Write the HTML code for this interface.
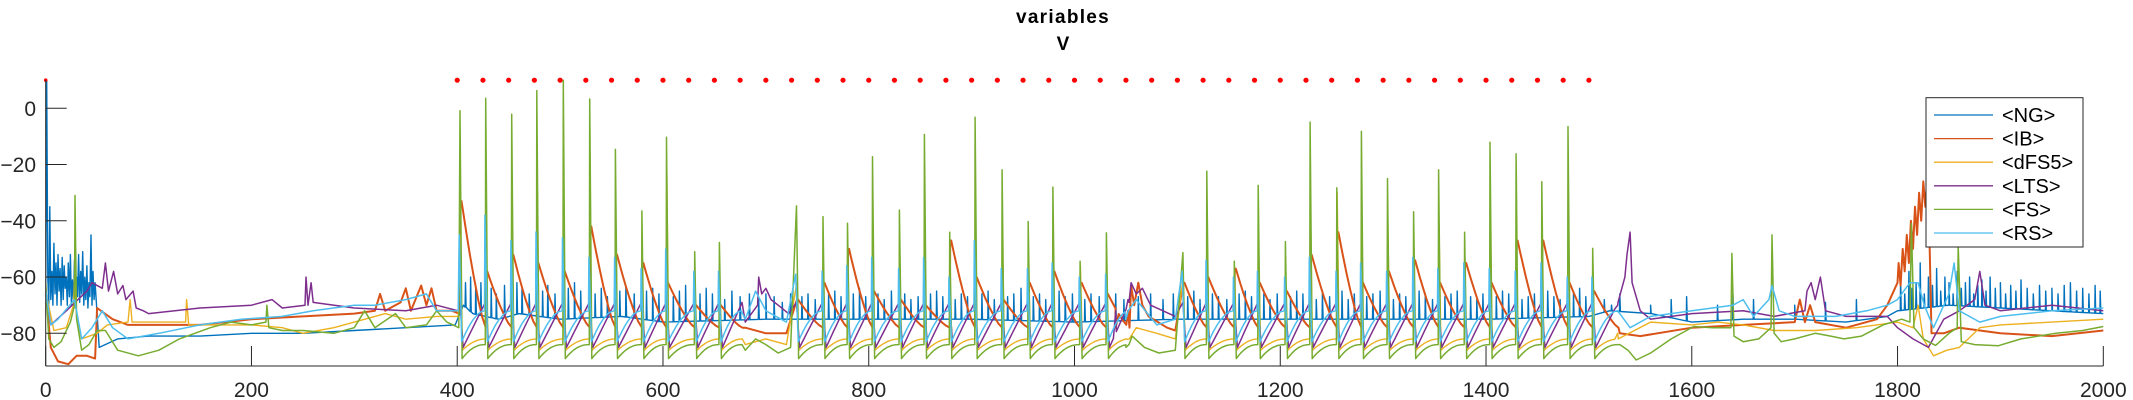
<!DOCTYPE html>
<html><head><meta charset="utf-8"><style>
html,body{margin:0;padding:0;background:#fff;}
svg{display:block;font-family:"Liberation Sans",sans-serif;}
</style></head><body>
<svg id="chart" width="2133" height="400" viewBox="0 0 2133 400" xmlns="http://www.w3.org/2000/svg">
<defs><clipPath id="pc"><rect x="45.7" y="60" width="2058" height="306"/></clipPath></defs>
<text x="1063" y="23" text-anchor="middle" font-weight="bold" font-size="19" letter-spacing="1.3">variables</text>
<text x="1063" y="50" text-anchor="middle" font-weight="bold" font-size="19">V</text>
<g id="traces" clip-path="url(#pc)"></g>
<g id="dots"></g>
<g id="axes"></g>
<g id="legend"></g>
</svg>
<script>
const xTicks=[0,200,400,600,800,1000,1200,1400,1600,1800,2000];
const yTicks=[0,-20,-40,-60,-80];
const dotT=[0,400,425,450,475,500,525,550,575,600,625,650,675,700,725,750,775,800,825,850,875,900,925,950,975,1000,1025,1050,1075,1100,1125,1150,1175,1200,1225,1250,1275,1300,1325,1350,1375,1400,1425,1450,1475,1500];
const dotV=10;
const names=["<NG>","<IB>","<dFS5>","<LTS>","<FS>","<RS>"];
const fsT=[402.7,427.7,453,477.4,503.1,528.8,553.8,579.5,603.4,630.8,654.8,729.8,755.5,779.4,803.7,829.8,854.1,878.7,903.4,929.6,955,979,1005.4,1031,1105.4,1128.6,1155.3,1178.6,1205,1229,1255,1278.9,1304.2,1329.6,1353.9,1379.2,1403.9,1429.2,1454.2,1479.7,1503.7];
const fsP=[-0.9,3.6,-2.1,6.3,10,3.3,-14.6,-36.5,-10.3,-51,-47.7,-34.7,-38.5,-40.9,-17.2,-36.2,-9.3,-44.1,-3.2,-21.9,-40.3,-28,-54.4,-44.3,-51.3,-22.4,-54.4,-27.4,-47.4,-4.9,-28.3,-8.2,-25,-36.8,-21.9,-44.1,-12.1,-16.2,-26.1,-6.5,-49.8];
const fsPre=[[0,-62],[3,-82],[8,-85],[15,-83],[24,-76],[28,-70],[28.5,-31],[30,-75],[35,-86],[42,-84],[50,-79],[58,-79],[70,-86],[90,-88],[110,-86],[130,-82],[160,-78],[180,-76],[200,-77],[214,-76],[215,-70],[217,-78],[230,-79],[250,-79],[280,-80],[300,-78],[310,-72],[320,-78],[340,-73],[350,-78],[370,-77],[380,-72],[390,-76],[401.5,-78]];
const fsGap=[[680,-86],[690,-82],[700,-84],[712,-87],[724,-85],[1050,-85],[1056,-81],[1068,-85],[1082,-87],[1098,-86]];
const fsPost=[[1530,-84],[1538,-86],[1546,-89.5],[1560,-87],[1580,-82],[1602,-77.6],[1620,-78],[1638,-78],[1639,-51.6],[1641,-81],[1650,-83],[1665,-82],[1677,-78],[1678,-45],[1680,-80],[1687,-83],[1700,-82],[1720,-80],[1735,-81],[1748,-82],[1765,-81],[1786,-77],[1804,-75],[1812,-76],[1813.5,-41],[1816,-78],[1825,-82],[1837,-84.3],[1850,-80],[1858,-78],[1859,-49],[1862,-83],[1875,-84],[1898,-84.4],[1920,-82],[1954,-80],[1980,-79],[2000,-77.6]];
const rsP=[-45,-38,-47,-44,-46,-53,-53,-57,-50,-58,-58,-59,-58,-56,-53,-57,-53,-60,-47,-57,-57,-55,-60,-59,-58,-54,-60,-58,-60,-53,-58,-55,-58,-53,-57,-55,-57,-58,-55,-60,-60];
const rsPre=[[0,-65],[5,-77],[12,-75],[28,-68],[35,-82],[45,-78],[55,-72],[65,-78],[80,-82],[110,-80],[150,-77],[190,-75],[230,-74],[260,-72],[300,-70],[320,-70],[350,-68],[370,-66],[380,-72],[401,-72]];
const rsGap=[[680,-75],[690,-65],[700,-72],[720,-76],[1050,-75],[1060,-68],[1080,-77],[1098,-75]];
const rsPost=[[1528,-72],[1540,-78],[1560,-74],[1600,-72],[1640,-70],[1650,-68],[1660,-74],[1675,-68],[1678,-63],[1685,-72],[1700,-74],[1740,-74],[1770,-72],[1790,-70],[1800,-68],[1812,-62],[1820,-62],[1826,-70],[1835,-78],[1850,-66],[1855,-55],[1860,-72],[1880,-76],[1900,-74],[1950,-72],[2000,-71]];
const yP=[-45,-58,-55,-25,-40,-60,-58,-55,-22,-62,-65,-62,-60,-58,-55,-60,-58,-62,-55,-45,-55,-60,-56,-60,-60,-44,-58,-50,-60,-33,-30,-60,-40,-58,-40,-60,-38,-58,-55,-52,-60];
const yPre=[[0,-65],[8,-79],[20,-78],[27,-70],[28,-60],[30,-75],[35,-82],[50,-80],[60,-77],[80,-76],[82,-68],[84,-76],[136,-76],[137,-68],[139,-77],[200,-77],[230,-78],[250,-80],[280,-78],[300,-76],[330,-73],[350,-75],[380,-74],[401,-74]];
const yGap=[[680,-84],[700,-82],[720,-84],[1050,-82],[1060,-78],[1080,-80],[1098,-82]];
const yPost=[[1528,-80],[1560,-76],[1600,-77],[1625,-76],[1650,-77],[1680,-79],[1720,-79],[1760,-78],[1800,-76],[1815,-78],[1820,-70],[1825,-82],[1835,-88],[1848,-86],[1860,-85],[1880,-78],[1900,-77],[1950,-76],[2000,-75]];
const ibP=[-33,-58,-52,-55,-58,-42,-52,-55,-62,-70,-70,-68,-62,-50,-65,-68,-70,-47,-60,-68,-62,-58,-62,-66,-62,-60,-57,-62,-65,-52,-44,-62,-58,-54,-62,-55,-62,-47,-47,-62,-65];
const ibPre=[[0,-65],[5,-85],[12,-90],[22,-91],[30,-88],[40,-88],[48,-89],[50,-71],[65,-75],[80,-77],[150,-77],[200,-75],[250,-74],[300,-73],[320,-72],[325,-66],[330,-72],[345,-69],[350,-64],[355,-72],[365,-63],[370,-70],[375,-64],[380,-72],[395,-72],[401.5,-73]];
const ibGap=[[680,-78],[700,-80],[720,-80],[1040,-78],[1052,-72],[1055,-63],[1058,-70],[1062,-62],[1066,-70],[1072,-74],[1090,-78],[1098,-79]];
const ibPost=[[1530,-80],[1550,-81],[1600,-78],[1650,-77],[1700,-76],[1705,-68],[1710,-76],[1715,-70],[1720,-76],[1750,-78],[1780,-75],[1790,-70],[1800,-62],[1801,-55],[1803,-63],[1805,-50],[1807,-58],[1809,-45],[1811,-55],[1813,-40],[1815,-50],[1817,-35],[1819,-45],[1821,-30],[1823,-40],[1825,-26],[1827,-35],[1829,-24],[1831,-45],[1833,-80],[1845,-80],[1860,-78],[1900,-80],[1950,-81],[2000,-79]];
const ltsPre=[[0,-65],[5,-77],[20,-72],[40,-65],[45,-62],[55,-64],[58,-55],[61,-65],[66,-58],[70,-66],[75,-63],[78,-68],[85,-65],[88,-71],[95,-72],[100,-73],[150,-71],[200,-70],[220,-68],[230,-71],[252,-70],[253,-60],[255,-70],[258,-62],[260,-69],[300,-71],[350,-72],[380,-70],[401,-72]];
const ltsGap=[[680,-76],[692,-70],[693,-60],[696,-66],[700,-64],[705,-68],[712,-70],[722,-73],[1040,-72],[1052,-68],[1055,-62],[1060,-66],[1066,-64],[1074,-70],[1086,-72],[1098,-74]];
const ltsPost=[[1528,-70],[1535,-60],[1537,-52],[1540,-44],[1542,-62],[1550,-72],[1560,-75],[1600,-73],[1650,-72],[1680,-74],[1710,-72],[1712,-65],[1716,-62],[1720,-68],[1725,-60],[1730,-72],[1750,-74],[1790,-74],[1800,-78],[1815,-82],[1830,-85],[1845,-75],[1860,-72],[1875,-68],[1880,-58],[1885,-70],[1900,-72],[1950,-70],[2000,-72]];
const ngEarly=[[0,-65],[1,10],[2,-60],[3,-70],[4,-35],[5,-68],[6,-58],[7,-70],[8,-48],[9,-66],[10,-55],[11,-70],[12,-52],[13,-65],[14,-57],[15,-70],[16,-53],[17,-68],[18,-56],[19,-64],[20,-60],[21,-70],[22,-55],[23,-67],[24,-52],[25,-70],[26,-61],[27,-68],[28,-54],[29,-71],[30,-60],[31,-67],[32,-52],[33,-69],[34,-58],[35,-66],[36,-51],[37,-70],[38,-60],[39,-68],[40,-56],[41,-71],[42,-62],[43,-67],[44,-45],[45,-70],[46,-58],[47,-68]];
const ngBase=[[48,-62],[52,-85],[70,-82],[100,-81],[150,-81],[200,-80],[250,-80],[300,-79],[350,-78],[398,-77],[406,-70],[415,-73],[440,-75],[460,-73],[500,-75],[560,-74],[600,-76],[700,-75],[800,-75],[900,-75],[1000,-76],[1100,-75],[1200,-75],[1300,-75],[1400,-75],[1500,-74],[1520,-72],[1560,-73],[1600,-76],[1650,-75],[1700,-75],[1750,-76],[1790,-74],[1800,-72],[1850,-70],[1900,-71],[1950,-72],[2000,-73]];
const ngSpT=[408,413,418,423,433,438,446,458,463,470,483,488,495,508,514,520,534,540,546,558,564,572,584,590,596,610,616,622,636,642,648,660,667,675,684,693,700,708,716,724,735,741,748,761,767,773,785,791,797,809,815,822,835,841,848,860,866,872,884,890,896,910,916,922,935,941,948,960,966,972,985,991,998,1010,1016,1024,1040,1048,1062,1074,1086,1096,1110,1116,1122,1134,1140,1148,1160,1166,1172,1184,1190,1197,1210,1216,1222,1235,1241,1248,1260,1266,1272,1284,1290,1297,1310,1316,1322,1335,1341,1348,1360,1366,1372,1385,1391,1397,1410,1416,1422,1435,1441,1447,1460,1466,1472,1485,1491,1497,1515,1522,1530,1560,1580,1595,1625,1640,1660,1700,1730,1760,1803,1807,1811,1814,1818,1822,1826,1830,1834,1838,1842,1846,1850,1854,1858,1862,1866,1870,1874,1878,1882,1886,1890,1895,1900,1905,1910,1915,1920,1926,1932,1938,1944,1950,1956,1962,1968,1974,1980,1986,1992,1997];
const ngSpP=[-62,-60,-63,-62,-64,-66,-63,-62,-64,-66,-65,-63,-66,-64,-62,-65,-66,-64,-67,-65,-63,-66,-65,-64,-66,-67,-65,-63,-66,-64,-66,-68,-65,-67,-66,-68,-66,-67,-69,-66,-67,-66,-68,-66,-65,-67,-66,-64,-67,-66,-68,-65,-66,-68,-67,-66,-65,-67,-68,-66,-67,-66,-65,-68,-67,-66,-64,-67,-66,-68,-65,-67,-66,-68,-66,-67,-66,-68,-67,-66,-68,-66,-67,-65,-68,-66,-67,-68,-66,-65,-67,-66,-68,-66,-67,-65,-66,-68,-66,-67,-65,-68,-66,-67,-66,-65,-68,-66,-67,-65,-66,-68,-67,-66,-65,-67,-68,-66,-67,-65,-66,-68,-67,-66,-65,-67,-68,-66,-64,-67,-68,-70,-66,-70,-68,-67,-70,-66,-68,-70,-69,-68,-60,-66,-58,-64,-62,-55,-66,-60,-63,-57,-65,-60,-62,-66,-58,-64,-62,-60,-66,-63,-61,-65,-60,-64,-62,-66,-63,-65,-61,-64,-66,-63,-65,-64,-66,-63,-62,-65,-64,-66,-63,-65];

const X=t=>45.7+t*1.0288;
const Y=v=>108.3-v*2.8125;
const NS="http://www.w3.org/2000/svg";

function rhythm(times,peaks,o){
  const pts=[];
  for(let i=0;i<times.length;i++){
    const s=times[i];
    const nx=i+1<times.length?times[i+1]:s+25;
    const gap=nx-s;
    const end=gap>40?s+22:nx-0.4;
    const pk=o.noPeak?o.pre:peaks[i];
    pts.push([s,pk]);
    const tr=o.tr==='peak'?pk:o.tr;
    pts.push([s+o.fall,tr]);
    const fr=[0.1,0.2,0.35,0.5,0.7,0.85,1];
    fr.forEach(f=>{
      const g=1-Math.pow(1-f,o.k);
      pts.push([s+o.fall+(end-s-o.fall)*f,tr+(o.pre-tr)*g]);
    });
  }
  return pts;
}
function interp(arr,t){
  if(t<=arr[0][0])return arr[0][1];
  for(let i=1;i<arr.length;i++){if(t<=arr[i][0]){const a=arr[i-1],b=arr[i];return a[1]+(b[1]-a[1])*(t-a[0])/(b[0]-a[0]);}}
  return arr[arr.length-1][1];
}
function ngPoints(){
  let pts=ngEarly.concat(ngBase);
  ngSpT.forEach((t,i)=>{
    const b=interp(ngBase,t);
    const p=ngSpP[i]!==undefined?ngSpP[i]:-67;
    pts.push([t-0.3,b],[t,p],[t+0.6,b]);
  });
  return pts.sort((a,b)=>a[0]-b[0]);
}
function build(pre,rh,gap,post){return pre.concat(rh,gap,post).sort((a,b)=>a[0]-b[0]);}

const fsTimesRS=fsT.map(t=>t-0.8);
const fsTimesY=fsT.map(t=>t+0.3);
const fsTimesIB=fsT.map(t=>t+0.5);
const series=[
  {n:"NG",c:"#0072BD",w:1.4,p:ngPoints()},
  {n:"IB",c:"#D95319",w:2,p:build(ibPre,rhythm(fsTimesIB,ibP,{fall:1,tr:'peak',pre:-78,k:1.3}),ibGap,ibPost)},
  {n:"dFS5",c:"#EDB120",w:1.4,p:build(yPre,rhythm(fsTimesY,yP,{fall:2,tr:-86,pre:-82,k:2}),yGap,yPost)},
  {n:"LTS",c:"#7E2F8E",w:1.5,p:build(ltsPre,rhythm(fsT,null,{fall:3,tr:-85,pre:-69,k:1,noPeak:true}),ltsGap,ltsPost)},
  {n:"FS",c:"#77AC30",w:1.5,p:build(fsPre,rhythm(fsT,fsP,{fall:2,tr:-89,pre:-84,k:2.2}),fsGap,fsPost)},
  {n:"RS",c:"#4DBEEE",w:1.5,p:build(rsPre,rhythm(fsTimesRS,rsP,{fall:2.5,tr:-83,pre:-72,k:1.8}),rsGap,rsPost)}
];
const tg=document.getElementById('traces');
series.forEach(s=>{
  const pl=document.createElementNS(NS,'polyline');
  pl.setAttribute('points',s.p.map(q=>X(q[0]).toFixed(1)+','+Y(q[1]).toFixed(1)).join(' '));
  pl.setAttribute('fill','none');pl.setAttribute('stroke',s.c);pl.setAttribute('stroke-width',s.w);
  pl.setAttribute('stroke-linejoin','round');
  
  
  tg.appendChild(pl);
});
const dg=document.getElementById('dots');
dotT.forEach(t=>{
  const c=document.createElementNS(NS,'circle');
  c.setAttribute('cx',X(t));c.setAttribute('cy',Y(dotV));c.setAttribute('r',t===0?1.8:2.6);c.setAttribute('fill','#ff0000');
  
  
  dg.appendChild(c);
});
const ag=document.getElementById('axes');
function line(x1,y1,x2,y2,name){
  const l=document.createElementNS(NS,'line');
  l.setAttribute('x1',x1);l.setAttribute('y1',y1);l.setAttribute('x2',x2);l.setAttribute('y2',y2);
  l.setAttribute('stroke','#262626');l.setAttribute('stroke-width','1');
  
  
  ag.appendChild(l);
}
function text(x,y,s,anchor,size,name){
  const t=document.createElementNS(NS,'text');
  t.setAttribute('x',x);t.setAttribute('y',y);t.setAttribute('text-anchor',anchor);t.setAttribute('font-size',size);t.setAttribute('fill','#262626');
  t.textContent=s;
  
  
  ag.appendChild(t);
}
line(45.7,Y(10),45.7,366,'y-axis-line');
line(45.7,366,2103.3,366,'x-axis-line');
xTicks.forEach(t=>{line(X(t),366,X(t),346,'x-tick');text(X(t),397,String(t),'middle',21,'x-tick-label');});
yTicks.forEach(v=>{line(45.7,Y(v),66.7,Y(v),'y-tick');text(36,Y(v)+7.5,v===0?'0':'\u2212'+Math.abs(v),'end',21,'y-tick-label');});
const lg=document.getElementById('legend');
const box=document.createElementNS(NS,'rect');
box.setAttribute('x',1926);box.setAttribute('y',97.7);box.setAttribute('width',157);box.setAttribute('height',149.3);
box.setAttribute('fill','#fff');box.setAttribute('stroke','#262626');box.setAttribute('stroke-width','1');


lg.appendChild(box);
series.forEach((s,i)=>{
  const y=115+i*23.6;
  const l=document.createElementNS(NS,'line');
  l.setAttribute('x1',1934);l.setAttribute('x2',1993);l.setAttribute('y1',y);l.setAttribute('y2',y);
  l.setAttribute('stroke',s.c);l.setAttribute('stroke-width','1.3');
  
  
  lg.appendChild(l);
  const t=document.createElementNS(NS,'text');
  t.setAttribute('x',2002);t.setAttribute('y',y+7);t.setAttribute('font-size','20');t.setAttribute('fill','#000');
  t.textContent=names[i];
  
  
  lg.appendChild(t);
});
</script>
</body></html>
